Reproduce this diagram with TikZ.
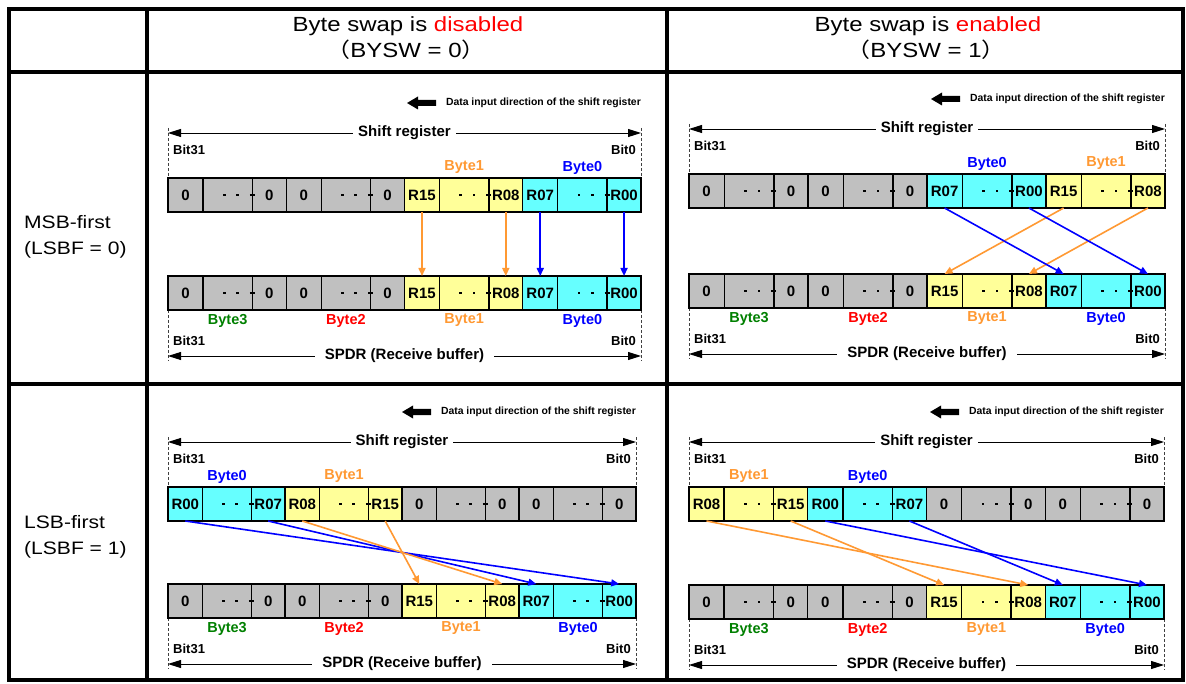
\documentclass[tikz,border=0pt]{standalone}
\usepackage{fontspec}
\setmainfont{Liberation Sans}
\newfontfamily\cjkfont{Noto Sans CJK JP}
\usetikzlibrary{arrows.meta}
\definecolor{cgray}{HTML}{C0C0C0}
\definecolor{cyel}{HTML}{FFFF99}
\definecolor{ccyan}{HTML}{66FFFF}
\definecolor{corange}{HTML}{FF9933}
\definecolor{cblue}{HTML}{0000FF}
\definecolor{cgreen}{HTML}{008000}
\definecolor{cred}{HTML}{FF0000}
\tikzset{
 cell/.style={draw, line width=1.4pt, anchor=north west, inner sep=0pt, outer sep=0pt, font=\fontsize{15}{15}\selectfont\bfseries},
 dimarr/.style={line width=0.9pt, {Triangle[length=13pt,width=8pt]}-{Triangle[length=13pt,width=8pt]}},
 ext/.style={line width=0.8pt, dash pattern=on 3pt off 2pt, black!75},
 oarr/.style={corange, line width=1.6pt, -{Triangle[length=8pt,width=7pt]}},
 barr/.style={cblue, line width=1.6pt, -{Triangle[length=8pt,width=7pt]}},
 bitlbl/.style={font=\fontsize{13}{13}\selectfont\bfseries, inner sep=0pt},
 bytelbl/.style={font=\fontsize{14.5}{14.5}\selectfont\bfseries, inner sep=0pt},
 dimlbl/.style={font=\fontsize{15}{15}\selectfont\bfseries, fill=white, inner ysep=1pt},
 dirlbl/.style={font=\fontsize{10.4}{10.4}\selectfont\bfseries, inner sep=0pt, anchor=east},
 hdr/.style={font=\fontsize{20.5}{20.5}\selectfont, inner sep=0pt, anchor=base},
 rowlbl/.style={font=\fontsize{18}{18}\selectfont, anchor=base west, inner sep=0pt},
 tbl/.style={line width=4.5pt},
}
\newcommand{\wide}[1]{\scalebox{1.17}[1]{#1}}
\newcommand{\regrow}[6]{%
 \pgfmathsetmacro{\rB}{#3/4}%
 \pgfmathsetmacro{\rH}{#5-#4}%
 \pgfmathsetmacro{\rYm}{(#4+#5)/2}%
 \foreach \col/\ta/\tc [count=\i] in {#6} {%
   \pgfmathsetmacro{\xa}{#2+(\i-1)*\rB}%
   \pgfmathsetmacro{\wa}{0.296*\rB}%
   \pgfmathsetmacro{\wb}{0.417*\rB}%
   \pgfmathsetmacro{\wc}{\rB-\wa-\wb}%
   \pgfmathsetmacro{\xb}{\xa+\wa}%
   \pgfmathsetmacro{\xc}{\xb+\wb}%
   \node[cell, fill=\col, minimum width=\wa pt, minimum height=\rH pt] (#1-\i-a) at (\xa,#4) {\ta};
   \node[cell, fill=\col, minimum width=\wb pt, minimum height=\rH pt] (#1-\i-b) at (\xb,#4) {};
   \node[cell, fill=\col, minimum width=\wc pt, minimum height=\rH pt] (#1-\i-c) at (\xc,#4) {\tc};
   \fill (\xb+0.43*\wb-1.3,\rYm-1.3) rectangle ++(2.6,2.6);
   \fill (\xb+0.70*\wb-1.3,\rYm-1.3) rectangle ++(2.6,2.6);
   \draw[line width=1.2pt] (\xc-2.5,\rYm) -- (\xc+2.5,\rYm);
 }
 \draw[line width=2.2pt] (#2,#4) rectangle (#2+#3,#5);
}
\newcommand{\panel}[6]{%
 \pgfmathsetmacro{\pxR}{#2+#3}%
 \pgfmathsetmacro{\pxC}{#2+#3/2}%
 \pgfmathsetmacro{\pyDir}{#4-75}%
 \pgfmathsetmacro{\pyDim}{#4-45}%
 \pgfmathsetmacro{\pyBit}{#4-28.5}%
 \pgfmathsetmacro{\pyTb}{#4+34}%
 \pgfmathsetmacro{\pyBb}{#5+34}%
 \pgfmathsetmacro{\pyBbit}{#5+65}%
 \pgfmathsetmacro{\pySp}{#5+80}%
 \pgfmathsetmacro{\pxT}{\pxR-234}%
 \node[dirlbl] (#1-dir) at (\pxR,\pyDir) {Data input direction of the shift register};
 \fill (\pxT,\pyDir) -- ++(11,-6.5) -- ++(0,3.5) -- ++(18,0) -- ++(0,6) -- ++(-18,0) -- ++(0,3.5) -- cycle;
 \draw[ext] (#2,\pyDim-5) -- (#2,#4);
 \draw[ext] (\pxR,\pyDim-5) -- (\pxR,#4);
 \draw[ext] (#2,\pyBb) -- (#2,\pySp+5);
 \draw[ext] (\pxR,\pyBb) -- (\pxR,\pySp+5);
 \draw[dimarr] (#2,\pyDim) -- (\pxR,\pyDim);
 \node[dimlbl, inner xsep=5pt] (#1-sr) at (\pxC,\pyDim) {Shift register};
 \draw[dimarr] (#2,\pySp) -- (\pxR,\pySp);
 \node[dimlbl, inner xsep=10pt] (#1-sp) at (\pxC,\pySp) {SPDR (Receive buffer)};
 \node[bitlbl, anchor=west] (#1-b31) at (#2+5,\pyBit) {Bit31};
 \node[bitlbl, anchor=east] (#1-b0) at (\pxR-5,\pyBit) {Bit0};
 \node[bitlbl, anchor=west] (#1-bb31) at (#2+5,\pyBbit) {Bit31};
 \node[bitlbl, anchor=east] (#1-bb0) at (\pxR-5,\pyBbit) {Bit0};
 \regrow{#1t}{#2}{#3}{#4}{\pyTb}{#6}
 \regrow{#1b}{#2}{#3}{#5}{\pyBb}{cgray/0/0, cgray/0/0, cyel/R15/R08, ccyan/R07/R00}
 \node[bytelbl, text=cgreen] (#1-by3) at ([yshift=-10.5pt]#1b-1-b.south) {Byte3};
 \node[bytelbl, text=cred] (#1-by2) at ([yshift=-10.5pt]#1b-2-b.south) {Byte2};
 \node[bytelbl, text=corange] (#1-by1) at ([yshift=-10.5pt]#1b-3-b.south) {Byte1};
 \node[bytelbl, text=cblue] (#1-by0) at ([yshift=-10.5pt]#1b-4-b.south) {Byte0};
}
\begin{document}
\begin{tikzpicture}[x=1pt,y=-1pt]
\useasboundingbox (0,0) rectangle (1186,684);
\fill[white] (0,0) rectangle (1186,684);
% table
\draw[tbl] (9,9) rectangle (1183,680);
\draw[tbl] (9,72) -- (1183,72);
\draw[tbl] (9,384) -- (1183,384);
\draw[line width=3.5pt] (147,9) -- (147,680);
\draw[line width=3.5pt] (667,9) -- (667,680);
% headers
\node[hdr] (h1a) at (408,32) {\wide{Byte swap is \textcolor{cred}{disabled}}};
\node[hdr] (h1b) at (406,58) {\wide{{\cjkfont （}BYSW = 0{\cjkfont ）}}};
\node[hdr] (h2a) at (928,32) {\wide{Byte swap is \textcolor{cred}{enabled}}};
\node[hdr] (h2b) at (926,58) {\wide{{\cjkfont （}BYSW = 1{\cjkfont ）}}};
\node[rowlbl] (r1a) at (24,229) {\wide{MSB-first}};
\node[rowlbl] (r1b) at (24,254.5) {\wide{(LSBF = 0)}};
\node[rowlbl] (r2a) at (24,528.5) {\wide{LSB-first}};
\node[rowlbl] (r2b) at (24,554) {\wide{(LSBF = 1)}};
% panel 1
\panel{pa}{168}{473}{178}{276}{cgray/0/0, cgray/0/0, cyel/R15/R08, ccyan/R07/R00}
\node[bytelbl, text=corange] (pa-tb1) at ([yshift=10.5pt]pat-3-b.north) {Byte1};
\node[bytelbl, text=cblue] (pa-tb0) at ([yshift=10.5pt]pat-4-b.north) {Byte0};
\draw[oarr] (pat-3-a.south) -- (pab-3-a.north);
\draw[oarr] (pat-3-c.south) -- (pab-3-c.north);
\draw[barr] (pat-4-a.south) -- (pab-4-a.north);
\draw[barr] (pat-4-c.south) -- (pab-4-c.north);
% panel 2
\panel{pb}{689}{476}{174}{274}{cgray/0/0, cgray/0/0, ccyan/R07/R00, cyel/R15/R08}
\node[bytelbl, text=cblue] (pb-tb0) at ([yshift=10.5pt]pbt-3-b.north) {Byte0};
\node[bytelbl, text=corange] (pb-tb1) at ([yshift=10.5pt]pbt-4-b.north) {Byte1};
\draw[oarr] (pbt-4-a.south) -- (pbb-3-a.north);
\draw[oarr] (pbt-4-c.south) -- (pbb-3-c.north);
\draw[barr] (pbt-3-a.south) -- (pbb-4-a.north);
\draw[barr] (pbt-3-c.south) -- (pbb-4-c.north);
% panel 3
\panel{pc}{168}{468}{487}{584}{ccyan/R00/R07, cyel/R08/R15, cgray/0/0, cgray/0/0}
\node[bytelbl, text=cblue] (pc-tb0) at ([yshift=10.5pt]pct-1-b.north) {Byte0};
\node[bytelbl, text=corange] (pc-tb1) at ([yshift=10.5pt]pct-2-b.north) {Byte1};
\draw[barr] (pct-1-a.south) -- (pcb-4-c.north);
\draw[barr] (pct-1-c.south) -- (pcb-4-a.north);
\draw[oarr] (pct-2-a.south) -- (pcb-3-c.north);
\draw[oarr] (pct-2-c.south) -- (pcb-3-a.north);
% panel 4
\panel{pd}{689}{475}{487}{585}{cyel/R08/R15, ccyan/R00/R07, cgray/0/0, cgray/0/0}
\node[bytelbl, text=corange] (pd-tb1) at ([yshift=10.5pt]pdt-1-b.north) {Byte1};
\node[bytelbl, text=cblue] (pd-tb0) at ([yshift=10.5pt]pdt-2-b.north) {Byte0};
\draw[oarr] (pdt-1-a.south) -- (pdb-3-c.north);
\draw[oarr] (pdt-1-c.south) -- (pdb-3-a.north);
\draw[barr] (pdt-2-a.south) -- (pdb-4-c.north);
\draw[barr] (pdt-2-c.south) -- (pdb-4-a.north);
\end{tikzpicture}
\end{document}
